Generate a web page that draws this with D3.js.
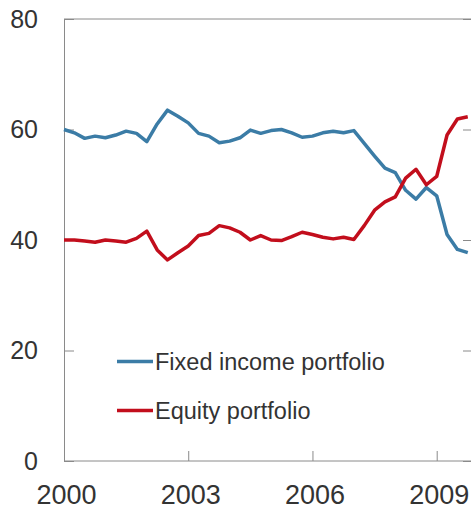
<!DOCTYPE html>
<html>
<head>
<meta charset="utf-8">
<script src="https://cdn.jsdelivr.net/npm/d3@7"></script>
<style>
  html, body { margin: 0; padding: 0; background: #fff; }
  svg { display: block; font-family: "Liberation Sans", Arial, sans-serif; }
</style>
</head>
<body>
<svg></svg>
<script>
const width = 471;
const height = 511;

// quarterly observations, 2000 Q1 onwards
const quarters = [
  '2000Q1', '2000Q2', '2000Q3', '2000Q4', '2001Q1', '2001Q2', '2001Q3', '2001Q4',
  '2002Q1', '2002Q2', '2002Q3', '2002Q4', '2003Q1', '2003Q2', '2003Q3', '2003Q4',
  '2004Q1', '2004Q2', '2004Q3', '2004Q4', '2005Q1', '2005Q2', '2005Q3', '2005Q4',
  '2006Q1', '2006Q2', '2006Q3', '2006Q4', '2007Q1', '2007Q2', '2007Q3', '2007Q4',
  '2008Q1', '2008Q2', '2008Q3', '2008Q4', '2009Q1', '2009Q2', '2009Q3', '2009Q4'
];
const fixedIncome = [
  60.0, 59.4, 58.4, 58.8, 58.5, 59.0, 59.7, 59.3,
  57.8, 61.0, 63.5, 62.4, 61.2, 59.3, 58.8, 57.6,
  57.9, 58.5, 59.9, 59.3, 59.8, 60.0, 59.4, 58.6,
  58.8, 59.4, 59.7, 59.4, 59.8, 57.5, 55.2, 53.0,
  52.2, 49.0, 47.4, 49.5, 48.0, 41.0, 38.3, 37.7
];
const equity = [
  40.0, 40.0, 39.8, 39.6, 40.0, 39.8, 39.6, 40.3,
  41.6, 38.2, 36.4, 37.7, 38.9, 40.8, 41.2, 42.6,
  42.2, 41.4, 40.0, 40.8, 40.0, 39.9, 40.6, 41.4,
  41.0, 40.5, 40.2, 40.5, 40.1, 42.6, 45.4, 46.9,
  47.8, 51.2, 52.8, 50.0, 51.5, 59.0, 61.9, 62.3
];
const seriesNames = ['Fixed income portfolio', 'Equity portfolio'];
const colors = ['#3b7ca6', '#c20e1c'];
const xTicks = [2000, 2003, 2006, 2009];
const yTicks = [0, 20, 40, 60, 80];

const plotLeft = 64, plotRight = 471, plotTop = 19, plotBottom = 461;

const svg = d3.select('svg').attr('width', width).attr('height', height);

function qToYear(q) {
  return +q.slice(0, 4) + (+q.slice(5) - 1) / 4;
}

const x = d3.scaleLinear()
  .domain([2000, 2009])
  .range([plotLeft, 436.7]);

const y = d3.scaleLinear()
  .domain([0, 80])
  .range([plotBottom, plotTop]);

// top border of the plot frame
svg.append('line')
  .attr('x1', plotLeft).attr('x2', plotRight)
  .attr('y1', plotTop).attr('y2', plotTop)
  .attr('stroke', '#8a8a8a').attr('stroke-width', 1);

const gLeft = svg.append('g')
  .attr('transform', `translate(${plotLeft},0)`)
  .call(d3.axisLeft(y).tickValues(yTicks).tickSizeInner(-10).tickSizeOuter(0).tickPadding(26));

const gRight = svg.append('g')
  .attr('transform', `translate(${plotRight},0)`)
  .call(d3.axisRight(y).tickValues(yTicks).tickSizeInner(-8).tickSizeOuter(0).tickFormat(''));
gRight.select('.domain').remove();

const gBottom = svg.append('g')
  .attr('transform', `translate(0,${plotBottom})`)
  .call(d3.axisBottom(x).tickValues(xTicks).tickFormat(d3.format('d'))
    .tickSizeInner(-10).tickSizeOuter(0).tickPadding(24));
gBottom.select('.domain').attr('d', `M${plotLeft},0H${plotRight}`);

svg.selectAll('.domain, .tick line').attr('stroke', '#8a8a8a').attr('stroke-width', 1);
gLeft.selectAll('.tick text').attr('font-size', 25).attr('fill', '#333');
gBottom.selectAll('.tick text').attr('font-size', 27).attr('fill', '#333').attr('dx', 2);
svg.selectAll('.tick text').attr('font-family', '"Liberation Sans", Arial, sans-serif');

const line = d3.line()
  .x((d, i) => x(qToYear(quarters[i])))
  .y(d => y(d));

[fixedIncome, equity].forEach((vals, k) => {
  svg.append('path')
    .datum(vals)
    .attr('fill', 'none')
    .attr('stroke', colors[k])
    .attr('stroke-width', 3.5)
    .attr('stroke-linejoin', 'round')
    .attr('d', line);
});

// legend
const legend = svg.append('g').selectAll('g')
  .data(seriesNames)
  .enter().append('g')
  .attr('transform', (d, i) => `translate(117, ${y(18.0) + i * 49})`);
legend.append('line')
  .attr('x1', 0).attr('x2', 36)
  .attr('stroke', (d, i) => colors[i])
  .attr('stroke-width', 3.5);
legend.append('text')
  .attr('x', 38)
  .attr('dy', '0.35em')
  .attr('font-size', 23.5)
  .attr('fill', '#333')
  .text(d => d);
</script>
</body>
</html>
